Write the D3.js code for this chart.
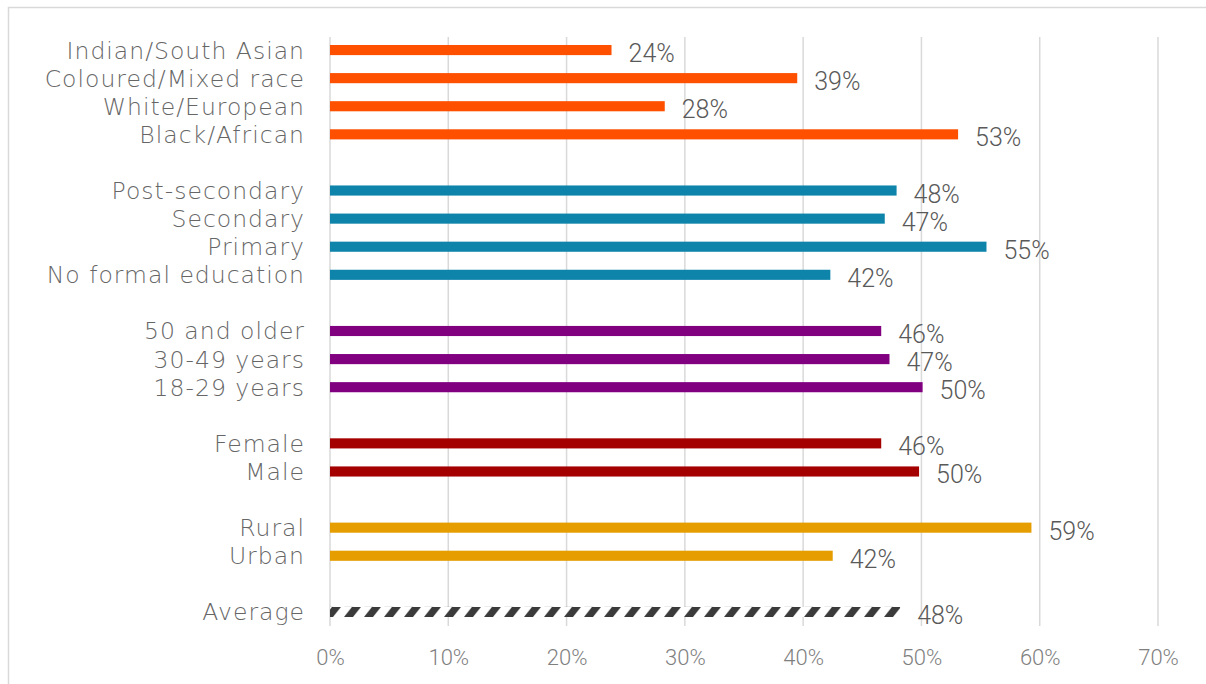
<!DOCTYPE html>
<html>
<head>
<meta charset="utf-8">
<script src="https://cdn.jsdelivr.net/npm/d3@7"></script>
<style>
  html, body { margin: 0; padding: 0; background: #fff; }
  svg { display: block; }
</style>
</head>
<body>
<svg id="chart" width="1206" height="684"></svg>
<script>
// ---- data ----
const categories = [
  "Indian/South Asian", "Coloured/Mixed race", "White/European", "Black/African", "",
  "Post-secondary", "Secondary", "Primary", "No formal education", " ",
  "50 and older", "30-49 years", "18-29 years", "  ",
  "Female", "Male", "   ",
  "Rural", "Urban", "    ",
  "Average"
];
const values = [
  0.238, 0.395, 0.283, 0.531, null,
  0.479, 0.469, 0.555, 0.423, null,
  0.466, 0.473, 0.501, null,
  0.466, 0.498, null,
  0.593, 0.425, null,
  0.482
];
const valueLabels = [
  "24%", "39%", "28%", "53%", "",
  "48%", "47%", "55%", "42%", "",
  "46%", "47%", "50%", "",
  "46%", "50%", "",
  "59%", "42%", "",
  "48%"
];
const groups = [
  "race", "race", "race", "race", null,
  "edu", "edu", "edu", "edu", null,
  "age", "age", "age", null,
  "gender", "gender", null,
  "area", "area", null,
  "avg"
];
const groupColors = { race: "#FF5000", edu: "#0E84AA", age: "#800080", gender: "#A50000", area: "#E59D00", avg: "url(#hatch)" };
const ticks = [0, 0.1, 0.2, 0.3, 0.4, 0.5, 0.6, 0.7];
const tickLabels = ["0%", "10%", "20%", "30%", "40%", "50%", "60%", "70%"];

// ---- layout ----
const svg = d3.select("#chart");
const x = d3.scaleLinear().domain([0, 0.7]).range([330, 1158]);
const y = d3.scaleBand().domain(categories).range([36, 626]).paddingInner(0.64).paddingOuter(0.32);

const defs = svg.append("defs");
const pat = defs.append("pattern").attr("id", "hatch").attr("patternUnits", "userSpaceOnUse")
  .attr("width", 20).attr("height", y.bandwidth()).attr("x", 324).attr("y", y("Average"));
pat.append("rect").attr("width", 20).attr("height", y.bandwidth()).attr("fill", "#fff");
pat.append("polygon").attr("points", "0,10.1 9,10.1 17,0 8,0").attr("fill", "#3b3b3b");

// frame
svg.append("rect").attr("x", 8.5).attr("y", 7.5).attr("width", 1300).attr("height", 800)
  .attr("fill", "none").attr("stroke", "#d9d9d9").attr("stroke-width", 1.5);

// gridlines
svg.append("g").selectAll("line").data(ticks).join("line")
  .attr("x1", d => x(d)).attr("x2", d => x(d))
  .attr("y1", 37).attr("y2", 626)
  .attr("stroke", "#d9d9d9").attr("stroke-width", 1.5);

// x axis labels
const xAxis = d3.axisBottom(x).tickValues(ticks).tickFormat((d, i) => tickLabels[i]).tickSize(0).tickPadding(0);
const gx = svg.append("g").attr("transform", "translate(0,650)").call(xAxis);
gx.select(".domain").remove();
gx.selectAll("text").attr("fill", "#7f7f7f")
  .style("font-family", "Roboto, sans-serif").style("font-weight", "300")
  .style("font-size", "22px").attr("dy", "0.7em");

// y axis labels
const yAxis = d3.axisLeft(y).tickSize(0).tickPadding(0);
const gy = svg.append("g").attr("transform", "translate(305,0)").call(yAxis);
gy.select(".domain").remove();
gy.selectAll("text").attr("fill", "#666666")
  .style("font-family", "'DejaVu Sans', sans-serif").style("font-weight", "200")
  .style("font-size", "23.5px").style("letter-spacing", "1px").attr("dy", "0.36em");

const rows = categories.map((c, i) => ({ c, v: values[i], l: valueLabels[i], g: groups[i] })).filter(d => d.v !== null);

// bars
svg.append("g").selectAll("rect").data(rows).join("rect")
  .attr("x", x(0)).attr("y", d => y(d.c))
  .attr("width", d => x(d.v) - x(0)).attr("height", y.bandwidth())
  .attr("fill", d => groupColors[d.g]);

// value labels
svg.append("g").selectAll("text").data(rows).join("text")
  .attr("x", d => x(d.v) + 17).attr("y", d => y(d.c) + y.bandwidth() / 2 + 3)
  .attr("dy", "0.36em")
  .attr("fill", "#595959")
  .style("font-family", "Roboto, sans-serif").style("font-weight", "300")
  .style("font-size", "25px")
  .text(d => d.l);
</script>
</body>
</html>
